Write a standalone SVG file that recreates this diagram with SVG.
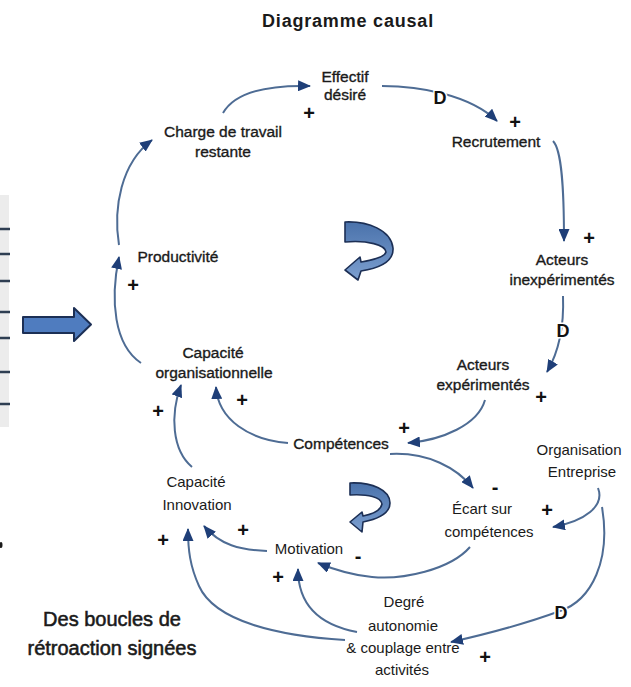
<svg xmlns="http://www.w3.org/2000/svg" width="631" height="687" viewBox="0 0 631 687">
  <defs>
    <marker id="ah" viewBox="0 0 13 11" refX="12" refY="5.5" markerWidth="13" markerHeight="11" markerUnits="userSpaceOnUse" orient="auto">
      <path d="M0,0 L13,5.5 L0,11 Z" fill="#1f3f78"/>
    </marker>
    <linearGradient id="loopFill" x1="0" y1="0" x2="0" y2="1">
      <stop offset="0" stop-color="#4a72ab"/>
      <stop offset="1" stop-color="#7c9fd0"/>
    </linearGradient>
    <style>
      .t { font-family: "Liberation Sans", Arial, sans-serif; fill: #1a1a1a; text-anchor: middle; }
      .up { font-size: 15.5px; stroke: #1a1a1a; stroke-width: 0.35; }
      .lo { font-size: 15px; }
      .sg { font-family: "Liberation Sans", Arial, sans-serif; font-size: 20px; font-weight: bold; fill: #111; text-anchor: middle; }
      .d { font-family: "Liberation Sans", Arial, sans-serif; font-size: 18px; font-weight: bold; fill: #111; text-anchor: middle; stroke: #fff; stroke-width: 3; paint-order: stroke; }
      .c { fill: none; stroke: #4e6c94; stroke-width: 2; marker-end: url(#ah); }
      .loop { fill: url(#loopFill); stroke: #1c2f55; stroke-width: 1.6; stroke-linejoin: round; }
    </style>
  </defs>

  <rect width="631" height="687" fill="#ffffff"/>

  <!-- title -->
  <text x="348" y="27" class="t" style="font-size:18px;font-weight:bold;letter-spacing:0.8px">Diagramme causal</text>

  <!-- left table edge -->
  <g id="table-edge">
    <rect x="0" y="195" width="9" height="232" fill="#ececec"/>
    <g stroke="#2e3e52" stroke-width="2.5">
      <line x1="0" y1="229" x2="10" y2="229"/>
      <line x1="0" y1="254" x2="10" y2="254"/>
      <line x1="0" y1="281" x2="10" y2="281"/>
      <line x1="0" y1="312" x2="10" y2="312"/>
      <line x1="0" y1="338" x2="10" y2="338"/>
      <line x1="0" y1="372" x2="10" y2="372"/>
      <line x1="0" y1="404" x2="10" y2="404"/>
    </g>
    <ellipse cx="1" cy="545" rx="1.5" ry="3" fill="#1a1a1a"/>
  </g>

  <!-- block arrow -->
  <path id="block-arrow" d="M23,317 L74,317 L74,308 L91,324.5 L74,341 L74,333 L23,333 Z" fill="#4f7cbf" stroke="#1c2f55" stroke-width="2" stroke-linejoin="round"/>

  <!-- connectors -->
  <g id="connectors">
    <path class="c" d="M223,113 C236,90 272,85 310,86"/>
    <path class="c" d="M382,86 C420,86 470,95 497,121"/>
    <path class="c" d="M553,141 C562,150 564,190 564,241"/>
    <path class="c" d="M563,296 C564,322 561,348 547,372"/>
    <path class="c" d="M485,400 C478,425 442,440 408,443"/>
    <path class="c" d="M288,443 C250,440 218,420 216,387"/>
    <path class="c" d="M141,363 C114,345 110,300 119,257"/>
    <path class="c" d="M119,245 C113,208 121,163 152,140"/>
    <path class="c" d="M192,467 C172,450 170,415 181,385"/>
    <path class="c" d="M390,454 C428,452 457,468 473,488"/>
    <path class="c" d="M598,488 C605,506 585,521 553,527"/>
    <path class="c" d="M602,507 C611,560 592,600 560,611 C522,625 482,635 451,642"/>
    <path class="c" d="M470,547 C450,570 402,580 372,577 C350,575 335,570 318,563"/>
    <path class="c" d="M267,551 C240,550 220,545 204,526"/>
    <path class="c" d="M357,632 C320,625 298,605 298,569"/>
    <path class="c" d="M345,640 C280,636 215,622 199,586 C190,566 188,550 188,529"/>
  </g>

  <!-- loop direction arrows -->
  <path id="loop-upper" class="loop" d="M345,222 C368,221 391,230 393,248 C394,262 380,268 361,271 L358,280 L345,270 L360,257 L361,262 C373,260 385,257 386,252 C385,245 368,240 345,242 Z"/>
  <path id="loop-lower" class="loop" d="M350,483 C372,482 390,490 390,503 C390,514 378,519 363,522 L362,532 L350,522 L362,512 L363,516 C373,514 381,510 382,504 C381,497 368,494 350,495 Z"/>

  <!-- nodes -->
  <g id="effectif-desire"><text class="t up" x="345" y="82">Effectif</text><text class="t up" x="345" y="100">désiré</text></g>
  <g id="charge-travail"><text class="t up" x="223" y="137">Charge de travail</text><text class="t up" x="223" y="157">restante</text></g>
  <g id="recrutement"><text class="t up" x="496" y="147">Recrutement</text></g>
  <g id="acteurs-inexperimentes"><text class="t up" x="562" y="265">Acteurs</text><text class="t up" x="562" y="285">inexpérimentés</text></g>
  <g id="productivite"><text class="t up" x="178" y="262">Productivité</text></g>
  <g id="capacite-organisationnelle"><text class="t up" x="213" y="358">Capacité</text><text class="t up" x="214" y="378">organisationnelle</text></g>
  <g id="acteurs-experimentes"><text class="t up" x="483" y="370">Acteurs</text><text class="t up" x="483" y="390">expérimentés</text></g>
  <g id="competences"><text class="t up" x="341" y="449">Compétences</text></g>
  <g id="organisation-entreprise"><text class="t lo" x="579" y="455">Organisation</text><text class="t lo" x="582" y="477">Entreprise</text></g>
  <g id="capacite-innovation"><text class="t lo" x="196" y="487">Capacité</text><text class="t lo" x="197" y="510">Innovation</text></g>
  <g id="ecart-competences"><text class="t lo" x="482" y="514">Écart sur</text><text class="t lo" x="489" y="537">compétences</text></g>
  <g id="motivation"><text class="t lo" x="309" y="554">Motivation</text></g>
  <g id="degre-autonomie"><text class="t lo" x="404" y="607">Degré</text><text class="t lo" x="403" y="631">autonomie</text><text class="t lo" x="403" y="653">&amp; couplage  entre</text><text class="t lo" x="402" y="675">activités</text></g>

  <!-- polarity and delay marks -->
  <g id="signs">
    <text class="sg" x="309" y="120">+</text>
    <text class="d" x="440" y="104">D</text>
    <text class="sg" x="515" y="129">+</text>
    <text class="sg" x="589" y="245">+</text>
    <text class="d" x="563" y="337">D</text>
    <text class="sg" x="541" y="404">+</text>
    <text class="sg" x="404" y="435">+</text>
    <text class="sg" x="133" y="292">+</text>
    <text class="sg" x="158" y="418">+</text>
    <text class="sg" x="242" y="407">+</text>
    <text class="sg" x="495" y="494">-</text>
    <text class="sg" x="547" y="517">+</text>
    <text class="d" x="561" y="619">D</text>
    <text class="sg" x="485" y="664">+</text>
    <text class="sg" x="243" y="537">+</text>
    <text class="sg" x="163" y="547">+</text>
    <text class="sg" x="358" y="563">-</text>
    <text class="sg" x="278" y="584">+</text>
  </g>

  <!-- caption -->
  <g id="caption">
    <text class="t" x="112" y="626" style="font-size:20px;stroke:#1a1a1a;stroke-width:0.55">Des boucles  de</text>
    <text class="t" x="112" y="655" style="font-size:20px;stroke:#1a1a1a;stroke-width:0.55">rétroaction signées</text>
  </g>
</svg>
